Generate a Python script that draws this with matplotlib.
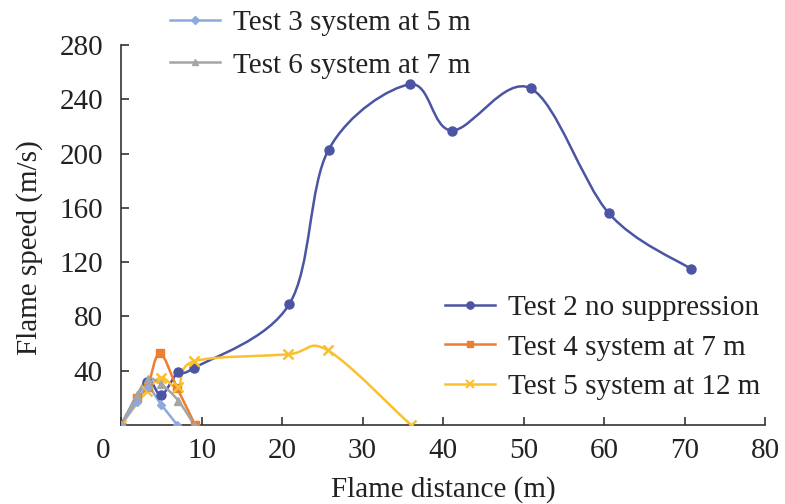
import numpy as np
import matplotlib
matplotlib.use("Agg")
import matplotlib.pyplot as plt
from matplotlib.path import Path
from matplotlib.patches import PathPatch
from matplotlib.lines import Line2D
import matplotlib.transforms as mtransforms

plt.rcParams['font.family'] = ['Liberation Serif', 'DejaVu Serif']

# values
dist2 = [0, 3.2, 5.0, 7.1, 9.1, 20.9, 25.8, 35.9, 41.1, 50.9, 60.6, 70.8]
speed2 = [0, 32, 22, 39, 42, 89, 203, 251, 217, 248, 156, 115]

dist4 = [0, 2.0, 3.3, 4.8, 7.0, 9.2]
speed4 = [0, 20, 28, 53, 27, 0]

dist5 = [0, 3.2, 5.0, 7.1, 9.1, 20.7, 25.7, 36.0]
speed5 = [0, 25, 35, 28, 47, 52, 55, 0]

dist3 = [0, 2.0, 3.3, 5.0, 7.0]
speed3 = [0, 17, 28, 15, 0]

dist6 = [0, 2.0, 3.3, 5.0, 7.1, 9.1]
speed6 = [0, 22, 34, 30, 18, 0]

xticks = [0, 10, 20, 30, 40, 50, 60, 70, 80]
yticks = [40, 80, 120, 160, 200, 240, 280]

FS = 21


def smooth_path(x, y):
    # excel-like smoothed line: cubic bezier segments through the points
    pts = np.column_stack([x, y]).astype(float)
    n = len(pts)
    verts = [pts[0]]
    codes = [Path.MOVETO]
    for i in range(n - 1):
        p0 = pts[i - 1] if i > 0 else pts[i]
        p1 = pts[i]
        p2 = pts[i + 1]
        p3 = pts[i + 2] if i + 2 < n else pts[i + 1]
        c1 = p1 + (p2 - p0) / 6.0
        c2 = p2 - (p3 - p1) / 6.0
        verts += [c1, c2, p2]
        codes += [Path.CURVE4] * 3
    return Path(verts, codes)


fig = plt.figure(figsize=(7.85, 5.04), dpi=100)
ax = fig.add_axes([121 / 785, 1 - 425 / 504, (765 - 121) / 785, (425 - 45) / 504])

series = [
    (dist2, speed2, '#4b55a3', 'o', 6.5, 'Test 2 no suppression'),
    (dist4, speed4, '#ed7d31', 's', 6, 'Test 4 system at 7 m'),
    (dist5, speed5, '#fbc02d', 'x', 7, 'Test 5 system at 12 m'),
    (dist3, speed3, '#8ea9db', 'D', 4.5, 'Test 3 system at 5 m'),
    (dist6, speed6, '#a5a5a5', '^', 6, 'Test 6 system at 7 m'),
]

handles = {}
for x, y, col, mk, ms, lab in series:
    patch = PathPatch(smooth_path(x, y), facecolor='none', edgecolor=col,
                      lw=1.8, zorder=2)
    ax.add_patch(patch)
    ax.plot(x, y, linestyle='none', marker=mk, color=col, ms=ms,
            mew=1.8 if mk == 'x' else 1, zorder=3)
    handles[lab] = Line2D([], [], color=col, lw=1.8, marker=mk, ms=ms * 0.8,
                          mew=1.5 if mk == 'x' else 1)

ax.set_xlim(0, 80)
ax.set_ylim(0, 280)
ax.set_xticks(xticks)
ax.set_yticks(yticks)
ax.tick_params(direction='in', length=6, width=1.2, colors='#333333',
               labelsize=FS, labelcolor='#222222')
ax.tick_params(axis='x', pad=9)
ax.tick_params(axis='y', pad=13)
for s in ['top', 'right']:
    ax.spines[s].set_visible(False)
for s in ['left', 'bottom']:
    ax.spines[s].set_color('#333333')
    ax.spines[s].set_linewidth(1.2)

# the "0" label sits a bit left of the axis in the original
lbl0 = ax.get_xticklabels()[0]
lbl0.set_transform(lbl0.get_transform() +
                   mtransforms.ScaledTranslation(-18 / 100, 0, fig.dpi_scale_trans))

ax.set_xlabel('Flame distance (m)', fontsize=FS, color='#222222', labelpad=9)
ax.set_ylabel('Flame speed (m/s)', fontsize=FS, color='#222222')
ax.yaxis.set_label_coords(-0.121, 0.466)

top_labels = ['Test 3 system at 5 m', 'Test 6 system at 7 m']
leg1 = fig.legend([handles[l] for l in top_labels], top_labels,
                  loc='upper left', bbox_to_anchor=(170 / 785, 1 - 10 / 504),
                  frameon=False, fontsize=FS, borderpad=0, borderaxespad=0,
                  handlelength=1.7, handletextpad=0.45, labelspacing=0.54,
                  labelcolor='#222222')

low_labels = ['Test 2 no suppression', 'Test 4 system at 7 m', 'Test 5 system at 12 m']
leg2 = fig.legend([handles[l] for l in low_labels], low_labels,
                  loc='upper left', bbox_to_anchor=(445 / 785, 1 - 295 / 504),
                  frameon=False, fontsize=FS, borderpad=0, borderaxespad=0,
                  handlelength=1.7, handletextpad=0.45, labelspacing=0.44,
                  labelcolor='#222222')

fig.savefig('out.png', dpi=100)
